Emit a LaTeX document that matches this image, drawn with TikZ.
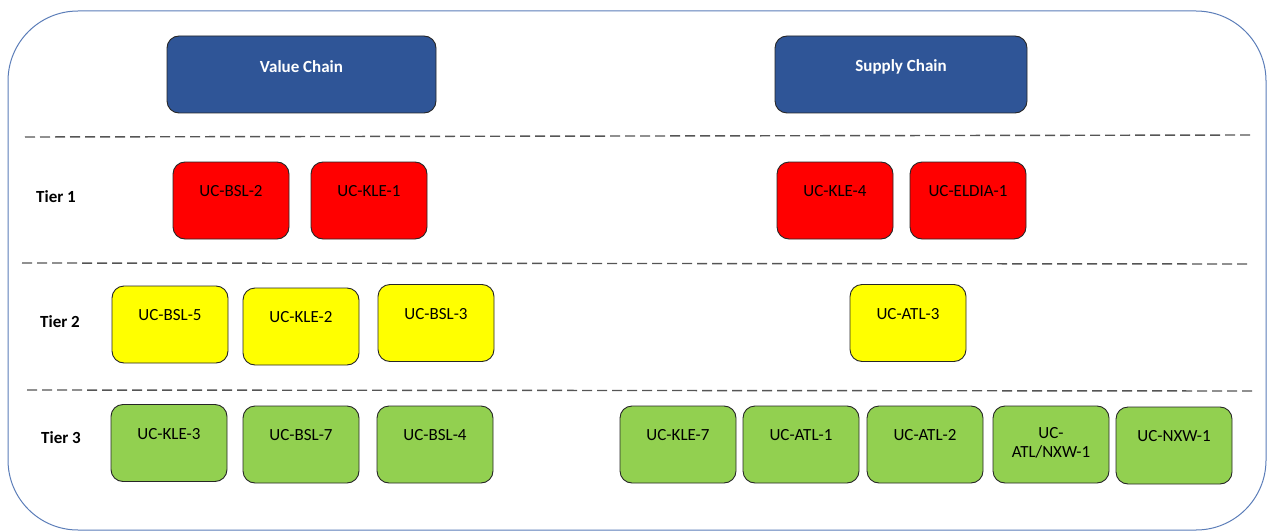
\documentclass[tikz,border=0pt]{standalone}
\usepackage{fontspec}
\setmainfont{Carlito}
\usetikzlibrary{calc}
\definecolor{hblue}{HTML}{2F5597}
\definecolor{outerblue}{HTML}{5B7DB8}
\definecolor{tred}{HTML}{FF0000}
\definecolor{tyellow}{HTML}{FFFF00}
\definecolor{tgreen}{HTML}{92D050}
\definecolor{dashgray}{HTML}{555555}
\tikzset{
  ucbox/.style={draw=black!85, line width=0.9pt, rounded corners=12pt, minimum width=116pt, minimum height=77pt, inner sep=0pt},
  hdrbox/.style={ucbox, fill=hblue, minimum height=77pt},
  redbox/.style={ucbox, fill=tred},
  yelbox/.style={ucbox, fill=tyellow},
  grnbox/.style={ucbox, fill=tgreen},
  boxtext/.style={font=\fontsize{17}{19}\selectfont, align=center, inner sep=0pt},
  hdrtext/.style={font=\bfseries\fontsize{17}{19}\selectfont, text=white, inner sep=0pt},
  tiertext/.style={font=\bfseries\fontsize{17}{19}\selectfont, inner sep=0pt},
  tierline/.style={dashgray, line width=1.4pt, dash pattern=on 10pt off 5pt}
}
\begin{document}
\begin{tikzpicture}[x=1pt,y=-1pt]
\useasboundingbox (0,0) rectangle (1268,532);
\draw[outerblue, line width=1pt, rounded corners=70pt] (8,11) rectangle (1266,530);

% headers
\node[hdrbox, minimum width=269pt] (vc) at (301.5,74.5) {};
\node[hdrtext] at ($(vc)+(0,-8)$) {Value Chain};
\node[hdrbox, minimum width=252pt] (sc) at (901,74.5) {};
\node[hdrtext] at ($(sc)+(0,-8)$) {Supply Chain};

% tier lines
\coordinate (l1a) at (25,137); \coordinate (l1b) at (1252,135);
\coordinate (l2a) at (22,263); \coordinate (l2b) at (1250,264);
\coordinate (l3a) at (27,390); \coordinate (l3b) at (1252,391);
\draw[tierline] (l1a) -- (l1b);
\draw[tierline] (l2a) -- (l2b);
\draw[tierline] (l3a) -- (l3b);

% tier labels
\node[tiertext] (t1) at (56,197) {Tier 1};
\node[tiertext] (t2) at (60,322) {Tier 2};
\node[tiertext] (t3) at (61,438) {Tier 3};

% tier 1
\node[redbox] (a1) at (231,200.5) {};
\node[boxtext] at ($(a1)+(0,-9)$) {UC-BSL-2};
\node[redbox] (a2) at (369,200.5) {};
\node[boxtext] at ($(a2)+(0,-9)$) {UC-KLE-1};
\node[redbox] (a3) at (835,200.5) {};
\node[boxtext] at ($(a3)+(0,-9)$) {UC-KLE-4};
\node[redbox] (a4) at (968,200.5) {};
\node[boxtext] at ($(a4)+(0,-9)$) {UC-ELDIA-1};

% tier 2
\node[yelbox] (b1) at (170,324.5) {};
\node[boxtext] at ($(b1)+(0,-9)$) {UC-BSL-5};
\node[yelbox] (b2) at (301,326.5) {};
\node[boxtext] at ($(b2)+(0,-9)$) {UC-KLE-2};
\node[yelbox] (b3) at (436,323) {};
\node[boxtext] at ($(b3)+(0,-9)$) {UC-BSL-3};
\node[yelbox] (b4) at (908,323) {};
\node[boxtext] at ($(b4)+(0,-9)$) {UC-ATL-3};

% tier 3
\node[grnbox] (c1) at (169,443) {};
\node[boxtext] at ($(c1)+(0,-9)$) {UC-KLE-3};
\node[grnbox] (c2) at (301,444.5) {};
\node[boxtext] at ($(c2)+(0,-9)$) {UC-BSL-7};
\node[grnbox] (c3) at (435,444.5) {};
\node[boxtext] at ($(c3)+(0,-9)$) {UC-BSL-4};
\node[grnbox] (c4) at (678,444.5) {};
\node[boxtext] at ($(c4)+(0,-9)$) {UC-KLE-7};
\node[grnbox] (c5) at (801,444.5) {};
\node[boxtext] at ($(c5)+(0,-9)$) {UC-ATL-1};
\node[grnbox] (c6) at (925,444.5) {};
\node[boxtext] at ($(c6)+(0,-9)$) {UC-ATL-2};
\node[grnbox] (c7) at (1051,444.5) {};
\node[boxtext] at ($(c7)+(0,-2)$) {UC-\\ATL/NXW-1};
\node[grnbox] (c8) at (1174,445.5) {};
\node[boxtext] at ($(c8)+(0,-9)$) {UC-NXW-1};
\end{tikzpicture}
\end{document}
